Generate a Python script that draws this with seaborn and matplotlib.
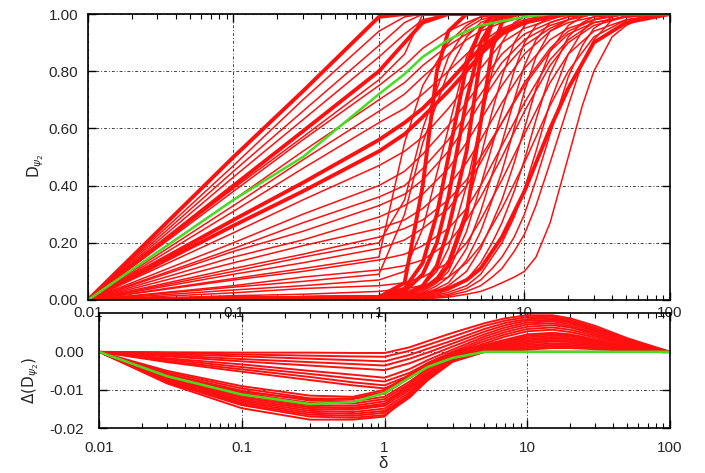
import matplotlib
matplotlib.use("Agg")
import matplotlib.pyplot as plt
import seaborn as sns
import pandas as pd
from matplotlib.ticker import FixedLocator, FixedFormatter, LogLocator, NullFormatter

sns.set_style("ticks")
plt.rcParams["font.family"] = ["Liberation Sans", "DejaVu Sans"]
plt.rcParams["mathtext.fontset"] = "dejavusans"

# ---- data: top panel, D_psi2 vs delta ----
x_fan = [0.01, 0.1, 0.3, 1, 1.5, 2, 3, 4, 5, 7, 10, 15, 20, 30, 50, 100]

# straight fan lines (linear in log delta) that bend up after delta = 1
fan_lines = [
    [0, .50, .73, .99, 1, 1, 1, 1, 1, 1, 1, 1, 1, 1, 1, 1],
    [0, .47, .70, .94, .99, 1, 1, 1, 1, 1, 1, 1, 1, 1, 1, 1],
    [0, .45, .66, .89, .97, 1, 1, 1, 1, 1, 1, 1, 1, 1, 1, 1],
    [0, .43, .63, .85, .93, .98, 1, 1, 1, 1, 1, 1, 1, 1, 1, 1],
    [0, .40, .59, .80, .90, .97, 1, 1, 1, 1, 1, 1, 1, 1, 1, 1],
    [0, .39, .57, .77, .86, 1, 1, 1, 1, 1, 1, 1, 1, 1, 1, 1],
    [0, .38, .56, .75, .82, .88, .94, .97, .99, 1, 1, 1, 1, 1, 1, 1],
    [0, .35, .52, .70, .76, .82, .89, .93, .96, .98, 1, 1, 1, 1, 1, 1],
    [0, .33, .49, .66, .72, .78, .86, .91, .94, .97, .99, 1, 1, 1, 1, 1],
    [0, .31, .46, .62, .67, .72, .80, .86, .90, .95, .98, 1, 1, 1, 1, 1],
    [0, .28, .41, .56, .62, .67, .76, .83, .88, .94, .97, .99, 1, 1, 1, 1],
    [0, .26, .38, .52, .58, .64, .73, .80, .86, .93, .97, .99, 1, 1, 1, 1],
    [0, .235, .35, .47, .52, .57, .67, .75, .81, .90, .95, .98, 1, 1, 1, 1],
    [0, .20, .30, .40, .45, .51, .61, .69, .76, .86, .93, .97, .99, 1, 1, 1],
    [0, .18, .27, .36, .40, .46, .56, .65, .72, .83, .91, .96, .98, 1, 1, 1],
    [0, .17, .24, .33, .37, .42, .52, .61, .69, .80, .89, .95, .98, 1, 1, 1],
    [0, .15, .21, .29, .33, .37, .46, .55, .63, .75, .86, .94, .97, .99, 1, 1],
    [0, .13, .19, .25, .28, .32, .40, .48, .56, .69, .81, .91, .95, .98, 1, 1],
    [0, .11, .16, .22, .25, .28, .35, .42, .50, .62, .75, .87, .93, .97, .99, 1],
    [0, .10, .15, .20, .35, .60, .85, .95, .98, 1, 1, 1, 1, 1, 1, 1],
    [0, .09, .13, .18, .21, .25, .32, .40, .48, .62, .76, .88, .94, .98, 1, 1],
    [0, .075, .11, .15, .55, .75, .90, .96, .99, 1, 1, 1, 1, 1, 1, 1],
    [0, .07, .10, .14, .16, .19, .25, .32, .40, .54, .69, .84, .91, .97, .99, 1],
    [0, .05, .08, .105, .12, .14, .20, .28, .36, .50, .66, .82, .90, .96, .99, 1],
    [0, .045, .065, .09, .30, .55, .80, .92, .97, 1, 1, 1, 1, 1, 1, 1],
    [0, .035, .05, .07, .10, .25, .60, .85, .95, .99, 1, 1, 1, 1, 1, 1],
    [0, .025, .04, .05, .06, .08, .13, .20, .28, .42, .58, .76, .86, .94, .98, 1],
    [0, .015, .02, .03, .04, .05, .08, .13, .19, .32, .48, .68, .80, .92, .98, 1],
    [0, .005, .007, .01, .015, .02, .04, .07, .11, .22, .38, .60, .74, .90, .97, 1],
]
fan_thick = [0, 4, 10, 11, 28]

# curves that stay near zero until delta ~ 1, then rise
x_sig = [0.01, 1, 1.5, 2, 2.5, 3, 4, 5, 6, 7, 8.5, 10, 12, 15, 20, 25, 30, 40, 50, 70, 100]
sigmoid_lines = [
    [0, .01, .04, .13, .30, .50, .82, .95, .99, 1, 1, 1, 1, 1, 1, 1, 1, 1, 1, 1, 1],
    [0, .01, .03, .09, .20, .36, .70, .90, .97, .99, 1, 1, 1, 1, 1, 1, 1, 1, 1, 1, 1],
    [0, .01, .02, .05, .12, .25, .52, .85, .97, 1, 1, 1, 1, 1, 1, 1, 1, 1, 1, 1, 1],
    [0, .008, .02, .05, .10, .18, .40, .62, .80, .90, .97, .99, 1, 1, 1, 1, 1, 1, 1, 1, 1],
    [0, .006, .015, .04, .08, .14, .32, .50, .66, .78, .90, .96, .99, 1, 1, 1, 1, 1, 1, 1, 1],
    [0, .005, .012, .03, .06, .10, .24, .40, .54, .66, .80, .90, .96, .99, 1, 1, 1, 1, 1, 1, 1],
    [0, .004, .01, .025, .05, .08, .18, .31, .44, .55, .70, .82, .91, .97, .99, 1, 1, 1, 1, 1, 1],
    [0, .003, .008, .02, .04, .06, .14, .24, .35, .45, .60, .73, .85, .94, .98, 1, 1, 1, 1, 1, 1],
    [0, .003, .006, .015, .03, .05, .10, .18, .27, .35, .48, .60, .74, .87, .96, .99, 1, 1, 1, 1, 1],
    [0, .002, .005, .012, .022, .035, .07, .13, .20, .27, .38, .49, .63, .79, .92, .97, .99, 1, 1, 1, 1],
    [0, .002, .004, .01, .018, .027, .05, .09, .15, .20, .29, .39, .52, .69, .86, .94, .98, 1, 1, 1, 1],
    [0, .001, .003, .008, .014, .02, .04, .07, .11, .15, .22, .30, .42, .58, .78, .89, .95, .99, 1, 1, 1],
    [0, .001, .002, .006, .01, .015, .03, .05, .08, .11, .17, .23, .33, .48, .68, .83, .91, .98, .995, 1, 1],
    [0, .001, .002, .004, .007, .01, .02, .03, .045, .06, .08, .10, .15, .27, .50, .68, .80, .92, .96, .995, 1],
    [0, .01, .06, .40, .80, .94, 1, 1, 1, 1, 1, 1, 1, 1, 1, 1, 1, 1, 1, 1, 1],
    [0, .01, .02, .04, .07, .12, .30, .62, .88, .97, 1, 1, 1, 1, 1, 1, 1, 1, 1, 1, 1],
]
sigmoid_thick = [0, 1, 2, 14, 15]

green_top = [0, .35, .50, .72, .79, .85, .91, .94, .96, .975, .99, 1, 1, 1, 1, 1]

# ---- data: bottom panel, Delta(D_psi2) vs delta ----
x_bot = [0.01, 0.03, 0.1, 0.3, 0.6, 1, 1.5, 2, 3, 5, 7, 10, 15, 20, 30, 50, 100]

dip_shallow = [
    [0, -.0001, -.0002, -.0002, -.0003, -.0003, .0012, .0028, .0050, .0075, .0088, .0096, .0096, .0088, .0068, .0036, 0],
    [0, -.0003, -.0007, -.0010, -.0012, -.0013, .0003, .0018, .0040, .0068, .0082, .0091, .0092, .0084, .0063, .0033, 0],
    [0, -.0006, -.0012, -.0018, -.0022, -.0025, -.0008, .0008, .0030, .0060, .0076, .0086, .0088, .0080, .0060, .0031, 0],
    [0, -.0009, -.0019, -.0027, -.0032, -.0036, -.0018, -.0002, .0022, .0053, .0070, .0082, .0084, .0077, .0057, .0029, 0],
    [0, -.0012, -.0025, -.0036, -.0043, -.0048, -.0030, -.0012, .0014, .0046, .0064, .0077, .0080, .0073, .0054, .0027, 0],
]
dip_mid = [
    [0, -.0017, -.0033, -.0050, -.0060, -.0068, -.0045, -.0022, .0006, .0040, .0058, .0072, .0075, .0068, .0050, .0025, 0],
    [0, -.0020, -.0040, -.0058, -.0070, -.0078, -.0055, -.0030, .0000, .0034, .0052, .0066, .0070, .0064, .0046, .0023, 0],
    [0, -.0024, -.0046, -.0066, -.0080, -.0088, -.0062, -.0036, -.0004, .0028, .0046, .0060, .0064, .0058, .0042, .0021, 0],
    [0, -.0027, -.0052, -.0074, -.0088, -.0096, -.0068, -.0040, -.0008, .0022, .0040, .0054, .0058, .0052, .0038, .0019, 0],
]
dip_deep = [
    [0, -.0050, -.0090, -.0115, -.0118, -.0100, -.0060, -.0030, .0000, .0018, .0032, .0046, .0050, .0046, .0033, .0016, 0],
    [0, -.0054, -.0096, -.0122, -.0124, -.0110, -.0068, -.0036, -.0004, .0015, .0028, .0042, .0047, .0043, .0031, .0015, 0],
    [0, -.0058, -.0102, -.0128, -.0130, -.0118, -.0078, -.0045, -.0010, .0012, .0025, .0038, .0043, .0040, .0029, .0014, 0],
    [0, -.0062, -.0108, -.0134, -.0136, -.0124, -.0084, -.0050, -.0013, .0009, .0021, .0034, .0039, .0036, .0026, .0013, 0],
    [0, -.0066, -.0115, -.0140, -.0142, -.0130, -.0090, -.0055, -.0016, .0006, .0018, .0030, .0035, .0033, .0024, .0012, 0],
    [0, -.0069, -.0120, -.0145, -.0147, -.0136, -.0095, -.0058, -.0018, .0004, .0015, .0026, .0031, .0029, .0021, .0010, 0],
    [0, -.0072, -.0125, -.0150, -.0152, -.0142, -.0100, -.0062, -.0020, .0002, .0012, .0022, .0027, .0026, .0019, .0009, 0],
    [0, -.0074, -.0129, -.0155, -.0158, -.0149, -.0106, -.0066, -.0022, .0001, .0009, .0018, .0022, .0022, .0016, .0008, 0],
    [0, -.0076, -.0133, -.0160, -.0163, -.0155, -.0112, -.0070, -.0024, 0, .0006, .0014, .0018, .0018, .0013, .0006, 0],
    [0, -.0078, -.0137, -.0165, -.0168, -.0160, -.0116, -.0072, -.0025, 0, .0003, .0010, .0014, .0014, .0010, .0004, 0],
    [0, -.0080, -.0140, -.0170, -.0173, -.0166, -.0120, -.0075, -.0026, 0, 0, .0006, .0010, .0010, .0007, .0003, 0],
    [0, -.0083, -.0148, -.0178, -.0178, -.0170, -.0110, -.0064, -.0010, 0, 0, 0, 0, 0, 0, 0, 0],
    [0, -.0070, -.0120, -.0145, -.0148, -.0138, -.0085, -.0040, -.0005, 0, 0, 0, 0, 0, 0, 0, 0],
    [0, -.0060, -.0105, -.0125, -.0122, -.0105, -.0065, -.0032, -.0003, 0, 0, 0, 0, 0, 0, 0, 0],
]
green_bot = [0, -.0064, -.0112, -.0137, -.0132, -.0108, -.0068, -.0040, -.0016, 0, 0, 0, 0, 0, 0, 0, 0]

x_ticks = [0.01, 0.1, 1, 10, 100]
x_ticklabels = ["0.01", "0.1", "1", "10", "100"]


def long_table(groups):
    rows = []
    cid = 0
    for xs, curves, thick in groups:
        for i, ys in enumerate(curves):
            w = "thick" if i in thick else "thin"
            for xv, yv in zip(xs, ys):
                rows.append((cid, w, xv, yv))
            cid += 1
    return pd.DataFrame(rows, columns=["curve", "width", "x", "y"])


def draw(ax, df, xs, green, thin_lw):
    for w, lw in [("thin", thin_lw), ("thick", 2.8)]:
        sub = df[df["width"] == w]
        if sub.empty:
            continue
        sns.lineplot(data=sub, x="x", y="y", units="curve", estimator=None,
                     color="#ff1010", lw=lw, ax=ax, legend=False, zorder=3)
    sns.lineplot(x=xs, y=green, color="#44dd22", lw=1.8, ax=ax, zorder=5)


def style(ax, yticks, ylabels, xpad, ypad):
    ax.set_xscale("log")
    ax.set_xlim(0.01, 100)
    ax.xaxis.set_major_locator(FixedLocator(x_ticks))
    ax.xaxis.set_major_formatter(FixedFormatter(x_ticklabels))
    ax.xaxis.set_minor_locator(LogLocator(base=10, subs=range(2, 10)))
    ax.xaxis.set_minor_formatter(NullFormatter())
    ax.yaxis.set_major_locator(FixedLocator(yticks))
    ax.yaxis.set_major_formatter(FixedFormatter(ylabels))
    ax.tick_params(which="both", direction="in", top=True, right=True,
                   labelsize=11, color="black")
    ax.tick_params(which="major", length=6, width=1)
    ax.tick_params(which="minor", length=3.5, width=0.8)
    ax.tick_params(axis="x", pad=xpad)
    ax.tick_params(axis="y", pad=ypad)
    ax.grid(True, which="major", color="#444444", lw=0.7,
            linestyle=(0, (3, 2, 1, 2)))
    for s in ax.spines.values():
        s.set_linewidth(1.2)
        s.set_color("black")
        s.set_zorder(6)
    ax.set_xlabel("")
    ax.set_ylabel("")


fig = plt.figure(figsize=(7.05, 4.73), dpi=100)
ax1 = fig.add_axes([0.1248, 0.3658, 0.8255, 0.6046])
ax2 = fig.add_axes([0.1404, 0.0951, 0.81, 0.2432])
ax2.set_facecolor("none")

top_df = long_table([(x_fan, fan_lines, fan_thick), (x_sig, sigmoid_lines, sigmoid_thick)])
draw(ax1, top_df, x_fan, green_top, 1.1)
style(ax1, [0, .2, .4, .6, .8, 1.0], ["0.00", "0.20", "0.40", "0.60", "0.80", "1.00"], 4, 7)
ax1.set_ylim(0, 1)

bot_df = long_table([(x_bot, dip_shallow, []), (x_bot, dip_mid, []), (x_bot, dip_deep, [])])
draw(ax2, bot_df, x_bot, green_bot, 1.4)
style(ax2, [-0.02, -0.01, 0.0], ["-0.02", "-0.01", "0.00"], 9, 11)
ax2.set_ylim(-0.02, 0.0102)

fig.text(0.05, 0.65, r"$\mathrm{D}_{\psi_2}$", rotation=90, ha="center", va="center", fontsize=11)
fig.text(0.043, 0.195, r"$\Delta(\mathrm{D}_{\psi_2})$", rotation=90, ha="center", va="center", fontsize=11)
fig.text(0.543, 0.02, "δ", ha="center", va="center", fontsize=12)

plt.savefig("out.png", dpi=100)
